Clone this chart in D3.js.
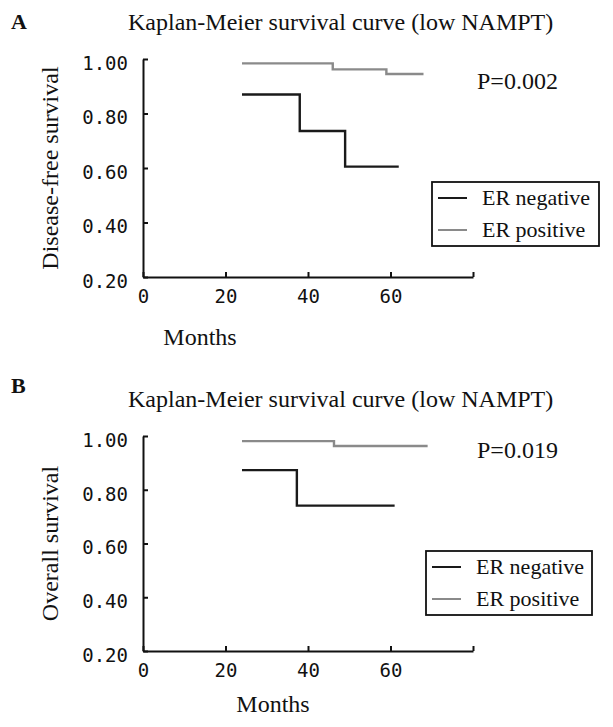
<!DOCTYPE html>
<html><head><meta charset="utf-8">
<script src="https://cdn.jsdelivr.net/npm/d3@7/dist/d3.min.js"></script>
<style>
html,body{margin:0;padding:0;background:#fff;}
svg{display:block;}
.serif{font-family:"Liberation Serif","Times New Roman",serif;fill:#111;}
.mono text{font-family:"DejaVu Sans Mono","Liberation Mono",monospace;font-size:19px;fill:#111;}
</style></head>
<body>
<svg id="chart" width="613" height="727"></svg>
<script>
// ---- data ----
const xTicks = [0, 20, 40, 60, 80];
const xTickLabels = ["0", "20", "40", "60", ""];
const yTicks = [0.20, 0.40, 0.60, 0.80, 1.00];
const seriesNames = ["ER negative", "ER positive"];
const seriesColors = ["#1a1a1a", "#8a8a8a"];
const titleText = "Kaplan-Meier survival curve (low NAMPT)";

// Panel A: disease-free survival
const negA_months = [24, 38, 49, 62];
const negA_surv   = [0.870, 0.736, 0.605, 0.605];
const posA_months = [24, 46, 59, 68];
const posA_surv   = [0.984, 0.962, 0.945, 0.945];
// Panel B: overall survival
const negB_months = [24, 37.3, 61];
const negB_surv   = [0.873, 0.741, 0.741];
const posB_months = [24, 46.3, 69];
const posB_surv   = [0.981, 0.963, 0.963];

const panels = [
  {letter:"A", ylabel:"Disease-free survival", p:"P=0.002",
   neg:[negA_months, negA_surv], pos:[posA_months, posA_surv],
   top:59, bottom:277, titleY:30, letterY:29, pY:89,
   legend:{x:432, y:182, w:167, h:64}, monthsX:200, monthsY:345},
  {letter:"B", ylabel:"Overall survival", p:"P=0.019",
   neg:[negB_months, negB_surv], pos:[posB_months, posB_surv],
   top:436, bottom:651, titleY:407, letterY:393, pY:458,
   legend:{x:426, y:551, w:166, h:64}, monthsX:273, monthsY:712}
];

const svg = d3.select("#chart");
const x0 = 143, x1 = 473;

panels.forEach(P => {
  const x = d3.scaleLinear().domain([0, 80]).range([x0, x1]);
  const y = d3.scaleLinear().domain([0.2, 1.0]).range([P.bottom, P.top]);
  const g = svg.append("g");

  // letter
  g.append("text").attr("class","serif").attr("x",11).attr("y",P.letterY)
    .attr("font-size",22).attr("font-weight","bold").text(P.letter);
  // title
  g.append("text").attr("class","serif").attr("x",128).attr("y",P.titleY)
    .attr("font-size",24).text(titleText);

  // y axis
  const ya = g.append("g").attr("class","mono").attr("transform",`translate(${x0},0)`)
    .call(d3.axisLeft(y).tickValues(yTicks).tickFormat(d3.format(".2f"))
      .tickSizeInner(-5).tickSizeOuter(0).tickPadding(15));
  ya.selectAll("text").attr("dy","0.55em");
  // x axis
  const xa = g.append("g").attr("class","mono").attr("transform",`translate(0,${P.bottom})`)
    .call(d3.axisBottom(x).tickValues(xTicks).tickFormat((d,i)=>xTickLabels[i])
      .tickSizeInner(-5).tickSizeOuter(0).tickPadding(13));
  [ya, xa].forEach(a => {
    a.select(".domain").attr("stroke","#111").attr("stroke-width",2);
    a.selectAll(".tick line").attr("stroke","#111").attr("stroke-width",2);
  });

  // axis titles
  g.append("text").attr("class","serif").attr("font-size",24)
    .attr("text-anchor","middle")
    .attr("transform",`translate(58,${(P.top+P.bottom)/2}) rotate(-90)`)
    .text(P.ylabel);
  g.append("text").attr("class","serif").attr("font-size",24)
    .attr("text-anchor","middle").attr("x",P.monthsX).attr("y",P.monthsY).text("Months");

  // curves
  const line = d3.line().x(d=>x(d[0])).y(d=>y(d[1])).curve(d3.curveStepAfter);
  [[P.neg, seriesColors[0]], [P.pos, seriesColors[1]]].forEach(([s, c]) => {
    const pts = s[0].map((m,i)=>[m, s[1][i]]);
    g.append("path").attr("d", line(pts)).attr("fill","none")
      .attr("stroke", c).attr("stroke-width", 2.4);
  });

  // p-value
  g.append("text").attr("class","serif").attr("font-size",24)
    .attr("x",477).attr("y",P.pY).text(P.p);

  // legend
  const L = P.legend;
  g.append("rect").attr("x",L.x).attr("y",L.y).attr("width",L.w).attr("height",L.h)
    .attr("fill","#fff").attr("stroke","#111").attr("stroke-width",1.8);
  seriesNames.forEach((n,i) => {
    const ly = L.y + 16 + i*32;
    g.append("line").attr("x1",L.x+6).attr("x2",L.x+35).attr("y1",ly).attr("y2",ly)
      .attr("stroke",seriesColors[i]).attr("stroke-width",2);
    g.append("text").attr("class","serif").attr("font-size",22)
      .attr("x",L.x+50).attr("y",ly+7).text(n);
  });
});
</script>
</body></html>
